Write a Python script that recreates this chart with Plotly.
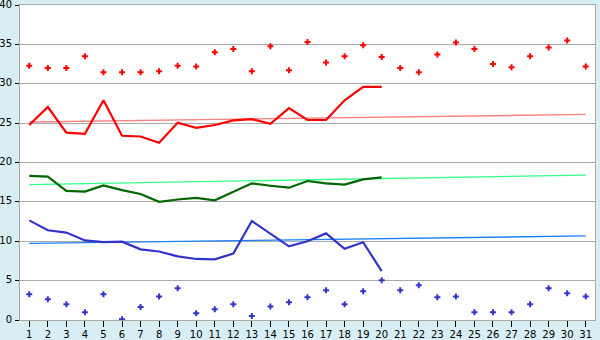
import plotly.graph_objects as go

days = list(range(1, 32))

max_pts = [32.3, 32.0, 32.0, 33.5, 31.45, 31.45, 31.45, 31.6, 32.3, 32.2,
           34.0, 34.4, 31.6, 34.75, 31.7, 35.3, 32.7, 33.5, 34.9, 33.4,
           32.0, 31.45, 33.7, 35.25, 34.4, 32.5, 32.1, 33.5, 34.6, 35.5, 32.2]
min_pts = [3.26, 2.63, 1.99, 0.97, 3.26, 0.08, 1.65, 3.0, 4.02, 0.85,
           1.35, 1.99, 0.5, 1.73, 2.24, 2.88, 3.77, 1.99, 3.64, 5.04,
           3.77, 4.4, 2.88, 3.0, 0.97, 0.97, 0.97, 1.99, 4.02, 3.39, 3.0]

line_days = list(range(1, 21))
red_line = [24.76, 27.05, 23.8, 23.65, 27.9, 23.4, 23.3, 22.5, 25.05, 24.4,
            24.76, 25.35, 25.5, 24.9, 26.9, 25.4, 25.4, 27.9, 29.6, 29.6]
green_line = [18.3, 18.2, 16.4, 16.3, 17.1, 16.5, 16.0, 15.0, 15.3, 15.5,
              15.2, 16.3, 17.35, 17.05, 16.8, 17.65, 17.35, 17.2, 17.85, 18.1]
blue_line = [12.65, 11.4, 11.1, 10.1, 9.9, 9.95, 8.97, 8.7, 8.08, 7.75,
             7.7, 8.45, 12.57, 11.0, 9.35, 10.0, 11.0, 9.05, 9.87, 6.2]

trend_days = [1, 31]
red_trend = [25.14, 26.1]
green_trend = [17.2, 18.4]
blue_trend = [9.73, 10.67]

fig = go.Figure()

fig.add_trace(go.Scatter(x=trend_days, y=red_trend, mode="lines",
                         line=dict(color="#FF8080", width=1.3)))
fig.add_trace(go.Scatter(x=trend_days, y=green_trend, mode="lines",
                         line=dict(color="#33FF88", width=1.3)))
fig.add_trace(go.Scatter(x=trend_days, y=blue_trend, mode="lines",
                         line=dict(color="#1A80FF", width=1.3)))

fig.add_trace(go.Scatter(x=line_days, y=red_line, mode="lines",
                         line=dict(color="#FF0000", width=2.2)))
fig.add_trace(go.Scatter(x=line_days, y=green_line, mode="lines",
                         line=dict(color="#006600", width=2.2)))
fig.add_trace(go.Scatter(x=line_days, y=blue_line, mode="lines",
                         line=dict(color="#3333CC", width=2.2)))

fig.add_trace(go.Scatter(x=days, y=max_pts, mode="markers",
                         marker=dict(symbol="cross", size=5, color="#FF0000",
                                     line=dict(width=0))))
fig.add_trace(go.Scatter(x=days, y=min_pts, mode="markers",
                         marker=dict(symbol="cross", size=5, color="#3333CC",
                                     line=dict(width=0))))

fig.update_layout(
    width=600, height=340,
    margin=dict(l=20, r=5, t=5, b=20),
    paper_bgcolor="#D8EEF5",
    plot_bgcolor="#FFFFFF",
    showlegend=False,
    font=dict(family="DejaVu Sans", size=10, color="#000000"),
)
fig.update_xaxes(range=[0.5, 31.5], tickvals=days, ticktext=[str(d) for d in days],
                 showgrid=False, zeroline=False, showline=True, linecolor="#AAAAAA",
                 mirror=True, ticks="outside", ticklen=6, tickcolor="#000000",
                 tickfont=dict(size=10), ticklabeloverflow="allow", automargin=False,
                 ticklabelstandoff=-1)
fig.update_yaxes(range=[0, 40], dtick=5, showgrid=True, gridcolor="#AAAAAA",
                 gridwidth=1, zeroline=False, showline=True, linecolor="#AAAAAA",
                 mirror=True, ticks="outside", ticklen=4, tickcolor="#000000",
                 tickfont=dict(size=10), ticklabeloverflow="allow", automargin=False,
                 ticklabelstandoff=1, ticklabelshift=-1)

fig.write_html("out.html")
